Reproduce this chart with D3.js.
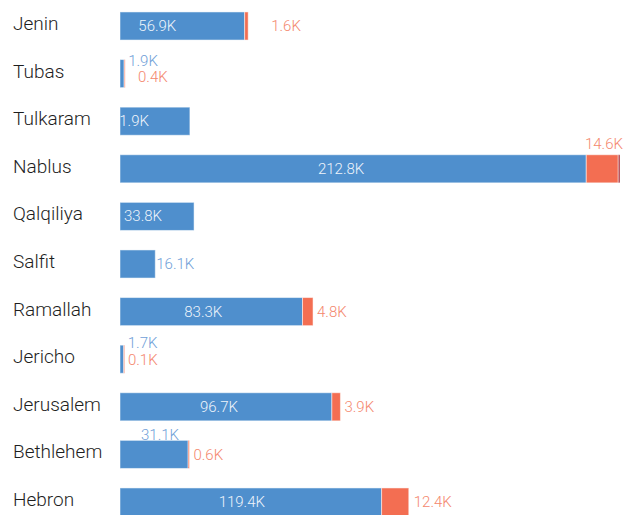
<!DOCTYPE html>
<html lang="en">
<head>
  <meta charset="utf-8">
  <title>Governorates</title>
  <script src="https://cdn.jsdelivr.net/npm/d3@7"></script>
  <style>
    body { margin: 0; background: #fff; }
    .cat { font-family: Roboto, sans-serif; font-size: 19px; font-weight: 300; fill: #1e1e1e; }
    .val { font-family: Roboto, sans-serif; font-size: 15px; font-weight: 300; }
    .bar { stroke: #fff; stroke-width: 1; stroke-opacity: 0.5; }
  </style>
</head>
<body>
<div id="chart"></div>
<script>
  var governorates = ["Jenin", "Tubas", "Tulkaram", "Nablus", "Qalqiliya", "Salfit",
    "Ramallah", "Jericho", "Jerusalem", "Bethlehem", "Hebron"];

  // thousands
  var blueValues = [56.9, 1.9, 31.9, 212.8, 33.8, 16.1, 83.3, 1.7, 96.7, 31.1, 119.4];
  var redValues  = [1.6, 0.4, 0, 14.6, 0, 0, 4.8, 0.1, 3.9, 0.6, 12.4];
  var darkValues = [0, 0, 0, 0.8, 0, 0, 0, 0, 0, 0, 0];

  // where each value label sits: in = inside bar, out = right of it, top = over it
  // dx / dy are small nudges so labels don't run into each other
  var blueLabelLayout = [
    {at: "in", dx: -25}, {at: "out", dx: 4, dy: -13}, {at: "in", dx: -25},
    {at: "in", dx: -12}, {at: "in", dx: -14}, {at: "out", dx: 1},
    {at: "in", dx: -8}, {at: "out", dx: 4, dy: -16}, {at: "in", dx: -7},
    {at: "top", dx: 6}, {at: "in", dx: -9}
  ];
  var redLabelLayout = [
    {at: "out", dx: 23}, {at: "out", dx: 13, dy: 3}, null,
    {at: "top", dx: 3}, null, null,
    {at: "out", dx: 4}, {at: "out", dx: 4, dy: 1}, {at: "out", dx: 4},
    {at: "out", dx: 4, dy: 1}, {at: "out", dx: 5}
  ];

  var width = 638,
      height = 515,
      left = 120;

  var colors = {blue: "#4f8fcd", red: "#f36e52", dark: "#a3202a"};

  var rows = governorates.map(function(g, i) {
    return {name: g, blue: blueValues[i], red: redValues[i], dark: darkValues[i]};
  });

  var stack = d3.stack().keys(["blue", "red", "dark"]);
  var series = stack(rows);

  var x = d3.scaleLinear()
      .domain([0, d3.max(rows, function(d) { return d.blue + d.red + d.dark; })])
      .range([left, 620]);

  var y = d3.scaleBand()
      .domain(governorates)
      .range([2.2, 525.8])
      .paddingInner(0.41)
      .paddingOuter(0.205);

  var fmt = function(v) { return d3.format(".1f")(v) + "K"; };

  var svg = d3.select("#chart")
    .append("svg")
      .attr("width", width)
      .attr("height", height);

  svg.append("defs").append("clipPath")
      .attr("id", "plot")
    .append("rect")
      .attr("x", left)
      .attr("y", 0)
      .attr("width", width - left)
      .attr("height", height);

  // category names
  svg.append("g")
    .selectAll("text")
    .data(governorates)
    .enter().append("text")
      .attr("class", "cat")
      .attr("x", 13)
      .attr("y", function(d) { return y(d) + y.bandwidth() / 2 + 4; })
      .text(function(d) { return d; });

  svg.append("g")
    .selectAll("g")
    .data(series)
    .enter().append("g")
      .attr("fill", function(s) { return colors[s.key]; })
    .selectAll("rect")
    .data(function(s) { return s.filter(function(d) { return d[1] > d[0]; }); })
    .enter().append("rect")
      .attr("class", "bar")
      .attr("x", function(d) { return x(d[0]); })
      .attr("y", function(d) { return y(d.data.name); })
      .attr("width", function(d) { return Math.max(1, x(d[1]) - x(d[0])); })
      .attr("height", y.bandwidth());

  var labels = svg.append("g").attr("clip-path", "url(#plot)");

  // blue labels
  labels.selectAll("text.blue")
    .data(rows)
    .enter().append("text")
      .attr("class", "val blue")
      .each(function(d, i) {
        var l = blueLabelLayout[i],
            mid = y(d.name) + y.bandwidth() / 2,
            t = d3.select(this);
        if (l.at === "in") {
          t.attr("x", (x(0) + x(d.blue)) / 2 + l.dx)
           .attr("y", mid + 5)
           .attr("text-anchor", "middle")
           .attr("fill", "#eef4fb");
        } else if (l.at === "out") {
          t.attr("x", x(d.blue) + l.dx)
           .attr("y", mid + 5 + (l.dy || 0))
           .attr("fill", "#6fa0d8");
        } else {
          t.attr("x", (x(0) + x(d.blue)) / 2 + l.dx)
           .attr("y", y(d.name))
           .attr("text-anchor", "middle")
           .attr("fill", "#6fa0d8");
        }
      })
      .text(function(d) { return fmt(d.blue); });

  // red labels
  labels.selectAll("text.red")
    .data(rows.filter(function(d, i) { return redLabelLayout[i]; }))
    .enter().append("text")
      .attr("class", "val red")
      .attr("fill", "#f4876e")
      .each(function(d) {
        var l = redLabelLayout[governorates.indexOf(d.name)],
            end = x(d.blue + d.red + d.dark),
            mid = y(d.name) + y.bandwidth() / 2,
            t = d3.select(this);
        if (l.at === "top") {
          t.attr("x", end + l.dx)
           .attr("y", y(d.name) - 6)
           .attr("text-anchor", "end");
        } else {
          t.attr("x", end + l.dx)
           .attr("y", mid + 5 + (l.dy || 0));
        }
      })
      .text(function(d) { return fmt(d.red); });
</script>
</body>
</html>
